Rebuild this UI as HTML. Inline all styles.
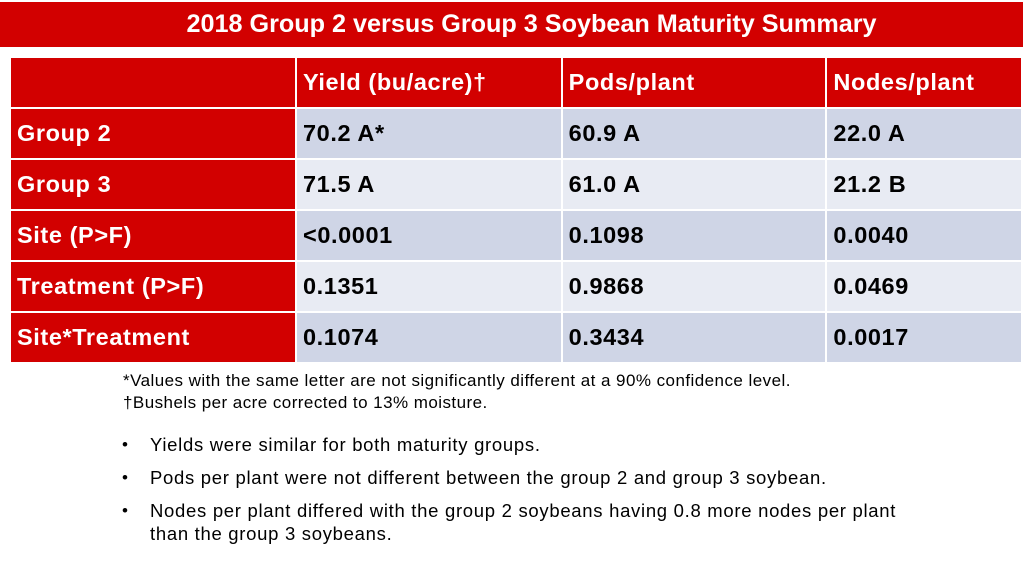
<!DOCTYPE html>
<html><head><meta charset="utf-8"><style>
body{margin:0;width:1023px;height:570px;background:#fff;position:relative;overflow:hidden;font-family:"Liberation Sans",sans-serif}
#title{position:absolute;left:0;top:2px;width:1023px;height:45px;background:#d20000;color:#fff;font-weight:bold;font-size:25.2px;line-height:45px;text-align:center;box-sizing:border-box;padding-left:40px}
table{position:absolute;left:9px;top:56px;border-collapse:collapse}
td{border:2px solid #fff;padding:0 0 0 6px;font-weight:bold;font-size:23.5px;letter-spacing:0.6px;height:51px;box-sizing:border-box;vertical-align:middle}
tr.h td{background:#d20000;color:#fff}
td.r{background:#d20000;color:#fff}
tr.o td.v{background:#cfd5e6}
tr.e td.v{background:#e8ebf3}
.t{position:absolute;color:#000;white-space:nowrap}
.fn{left:123px;font-size:17px;letter-spacing:0.45px}
.b{left:150px;font-size:18.5px;letter-spacing:0.7px}
.dot{position:absolute;left:122px;font-size:17px}
</style></head><body>
<div id="title">2018 Group 2 versus Group 3 Soybean Maturity Summary</div>
<table>
<tr class="h"><td style="width:287px"></td><td style="width:267px">Yield (bu/acre)†</td><td style="width:266px">Pods/plant</td><td style="width:196px">Nodes/plant</td></tr>
<tr class="o"><td class="r">Group 2</td><td class="v">70.2 A*</td><td class="v">60.9 A</td><td class="v">22.0 A</td></tr>
<tr class="e"><td class="r">Group 3</td><td class="v">71.5 A</td><td class="v">61.0 A</td><td class="v">21.2 B</td></tr>
<tr class="o"><td class="r">Site (P&gt;F)</td><td class="v">&lt;0.0001</td><td class="v">0.1098</td><td class="v">0.0040</td></tr>
<tr class="e"><td class="r">Treatment (P&gt;F)</td><td class="v">0.1351</td><td class="v">0.9868</td><td class="v">0.0469</td></tr>
<tr class="o"><td class="r">Site*Treatment</td><td class="v">0.1074</td><td class="v">0.3434</td><td class="v">0.0017</td></tr>
</table>
<div class="t fn" style="top:371px">*Values with the same letter are not significantly different at a 90% confidence level.</div>
<div class="t fn" style="top:393px">†Bushels per acre corrected to 13% moisture.</div>
<div class="dot" style="top:435px">•</div>
<div class="t b" style="top:434px">Yields were similar for both maturity groups.</div>
<div class="dot" style="top:468px">•</div>
<div class="t b" style="top:467px">Pods per plant were not different between the group 2 and group 3 soybean.</div>
<div class="dot" style="top:501px">•</div>
<div class="t b" style="top:500px">Nodes per plant differed with the group 2 soybeans having 0.8 more nodes per plant</div>
<div class="t b" style="top:523px">than the group 3 soybeans.</div>
</body></html>
